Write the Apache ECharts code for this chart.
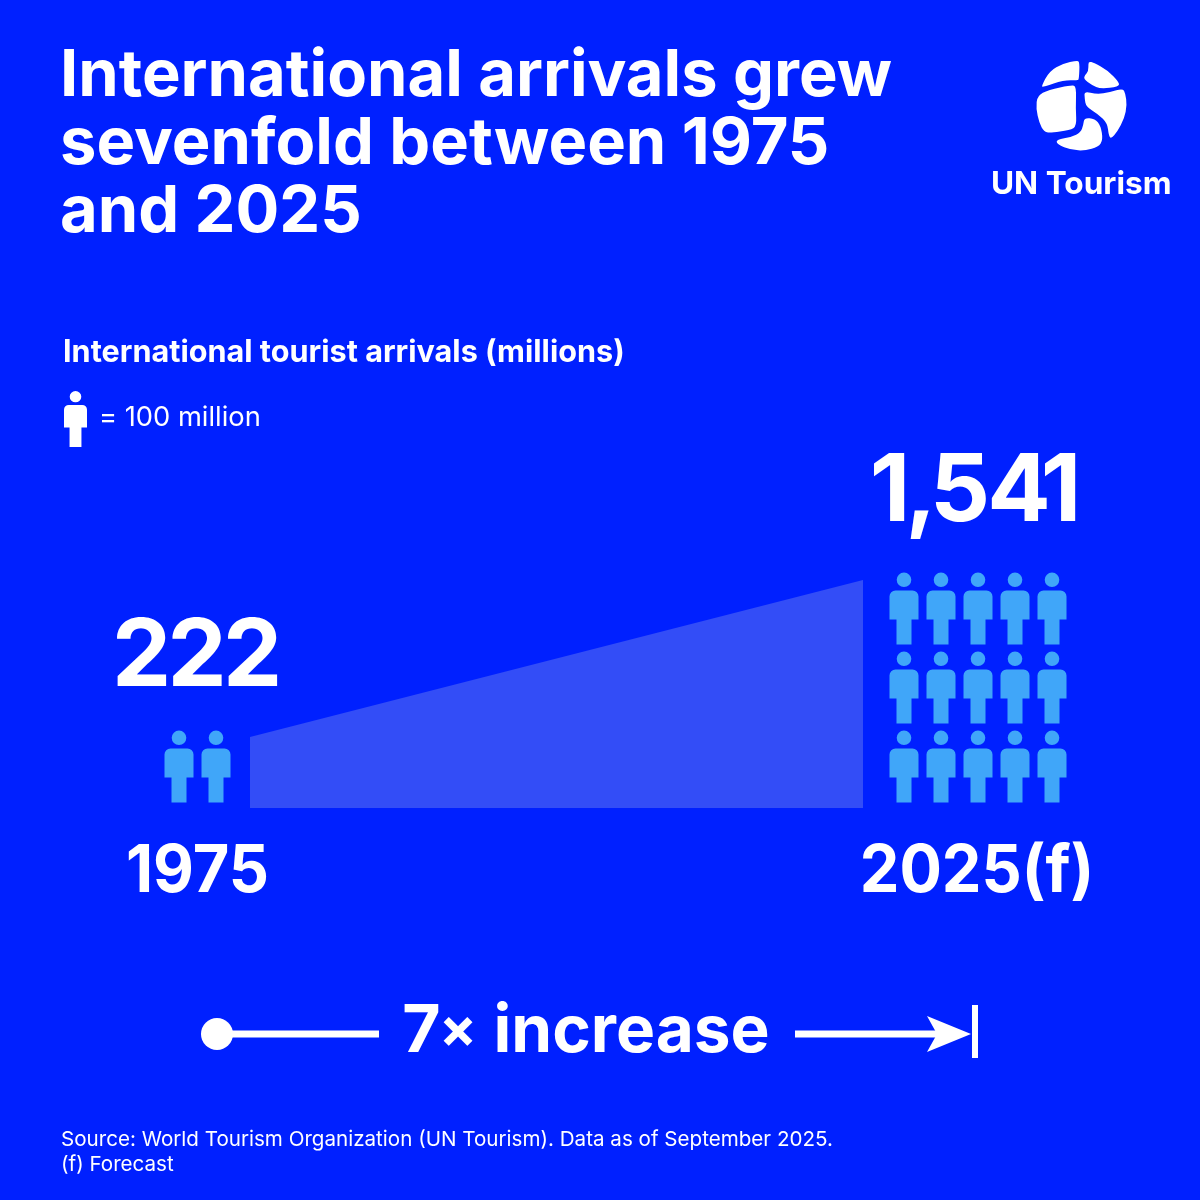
<!DOCTYPE html>
<html>
<head>
<meta charset="utf-8">
<title>International arrivals</title>
<script src="https://cdn.jsdelivr.net/npm/echarts@6/dist/echarts.min.js"></script>
<style>
  html, body { margin: 0; padding: 0; background: #0020ff; }
  #main { width: 1200px; height: 1200px; }
</style>
</head>
<body>
<div id="main"></div>
<script>
// data
var titleLines = ['International arrivals grew', 'sevenfold between 1975', 'and 2025'];
var yearValues = [1975, 2025];
var yearLabels = ['1975', '2025(f)'];
var arrivals = [222, 1541];
var peoplePerIcon = 100;
var iconsPerRow = 5;

var BG = '#0020ff', WEDGE = '#334df7', ICON = '#40a6f9', WHITE = '#ffffff';
var FONT = 'Inter, "Liberation Sans", sans-serif';

// person icon, 29 x 72
var PERSON = 'M14.5 0a7.3 7.3 0 1 0 .01 0z' +
  'M6 18H23a6 6 0 0 1 6 6V47H22V72H7V47H0V24a6 6 0 0 1 6-6z';

// logo outlines, in zoom coordinates (3x)
var logoShapes = [
  [[33,96],[58,48],[100,25],[140,17],[149,20],[147,72],[143,76],[100,76],[42,95]],
  [[178,20],[190,22],[232,45],[268,82],[266,95],[212,102],[185,90],[161,72],[165,60],[175,50],[175,25]],
  [[22,122],[55,105],[125,90],[139,94],[137,160],[140,214],[120,225],[60,234],[42,230],[28,205],[18,160]],
  [[163,108],[200,118],[240,112],[278,100],[286,115],[291,150],[283,190],[262,230],[243,252],[236,240],[232,205],[205,178],[168,155],[164,130]],
  [[163,188],[195,192],[212,212],[219,255],[205,276],[165,287],[125,285],[80,268],[80,253],[125,246],[152,232],[160,210]]
];

function smoothPath(pts) {
  var n = pts.length, d = '';
  for (var i = 0; i < n; i++) {
    var p = pts[i], q = pts[(i + 1) % n];
    var mx = (p[0] + q[0]) / 2, my = (p[1] + q[1]) / 2;
    if (i === 0) {
      var l = pts[n - 1];
      d += 'M' + (l[0] + p[0]) / 2 + ' ' + (l[1] + p[1]) / 2;
    }
    d += 'Q' + p[0] + ' ' + p[1] + ' ' + mx + ' ' + my;
  }
  return d + 'Z';
}

// the graphic component only knows registered shapes
echarts.graphic.registerShape('personIcon', echarts.graphic.extendPath(PERSON, {}));
logoShapes.forEach(function (pts, i) {
  echarts.graphic.registerShape('logoPart' + i, echarts.graphic.extendPath(smoothPath(pts), {}));
});

// one cell per 100 million, filled row by row from the bottom
function iconCells(value, perRow) {
  var count = Math.round(value / peoplePerIcon), cells = [];
  for (var i = 0; i < count; i++) {
    cells.push([i % perRow, Math.floor(i / perRow)]);
  }
  return cells;
}

function txt(text, x, baseline, size, weight, align, scaleX) {
  return {
    type: 'text', x: x, y: baseline - size * 0.31, scaleX: scaleX || 1, silent: true,
    style: {
      text: text, fill: WHITE, align: align || 'left', verticalAlign: 'middle',
      font: (weight || 400) + ' ' + size + 'px ' + FONT
    }
  };
}

// big numbers are tightly tracked in the reference, so set them glyph by glyph
function glyphs(text, centers, baseline, size) {
  return text.split('').map(function (ch, i) {
    return txt(ch, centers[i], baseline, size, 700, 'center');
  });
}

function formatValue(v) {
  return String(v).replace(/\B(?=(\d{3})+$)/g, ',');
}

var graphics = [];
titleLines.forEach(function (line, i) {
  graphics.push(txt(line, 60, 97 + i * 68, 65, 700));
});
graphics.push(txt('International tourist arrivals (millions)', 63, 362, 30.6, 700));
graphics.push(txt('= 100 million', 99, 426, 27.3, 400));
graphics.push({ type: 'personIcon', silent: true, x: 64, y: 391, scaleX: 23 / 29, scaleY: 56 / 72, style: { fill: WHITE } });
graphics = graphics.concat(glyphs(formatValue(arrivals[0]), [141.5, 197, 252.5], 687, 94));
graphics = graphics.concat(glyphs(formatValue(arrivals[1]), [890, 921, 960, 1019, 1061], 522, 94));
graphics.push(txt(yearLabels[0], 197.5, 893, 65.6, 700, 'center', 0.96));
graphics.push(txt(yearLabels[1], 977, 893, 65.6, 700, 'center', 0.96));

// 7x arrow
graphics.push({ type: 'circle', silent: true, shape: { cx: 217, cy: 1034, r: 16 }, style: { fill: WHITE } });
graphics.push({ type: 'rect', silent: true, shape: { x: 217, y: 1030.5, width: 162, height: 7 }, style: { fill: WHITE } });
graphics.push({ type: 'rect', silent: true, shape: { x: 795, y: 1030.5, width: 145, height: 7 }, style: { fill: WHITE } });
graphics.push({ type: 'polygon', silent: true, shape: { points: [[927, 1016], [971, 1034], [927, 1052], [937, 1034]] }, style: { fill: WHITE } });
graphics.push({ type: 'rect', silent: true, shape: { x: 972, y: 1005, width: 6, height: 53 }, style: { fill: WHITE } });
graphics.push(txt('7', 421.5, 1053, 66, 700, 'center'));
graphics.push(txt('×', 458, 1048.6, 56, 700, 'center'));
graphics.push(txt('increase', 493.5, 1053, 66, 700, 'left', 0.995));

// logo
logoShapes.forEach(function (pts, i) {
  graphics.push({ type: 'logoPart' + i, silent: true, x: 1030, y: 55, scaleX: 1 / 3, scaleY: 1 / 3, style: { fill: WHITE } });
});
graphics.push(txt('UN Tourism', 991, 194, 31.6, 700));

// footer
graphics.push(txt('Source: World Tourism Organization (UN Tourism). Data as of September 2025.', 61, 1146, 20.6, 400));
graphics.push(txt('(f) Forecast', 61, 1171, 20.6, 400));

var chart = echarts.init(document.getElementById('main'), null, { renderer: 'canvas' });

chart.setOption({
  backgroundColor: BG,
  animation: false,
  grid: [
    { left: 250, width: 613, top: 406.3, height: 401.7 },   // wedge
    { left: 179, width: 37, top: 608.5, height: 158 },      // 1975 icons
    { left: 904, width: 148, top: 608.5, height: 158 }      // 2025 icons
  ],
  xAxis: [
    { type: 'value', gridIndex: 0, min: yearValues[0], max: yearValues[1], show: false },
    { type: 'value', gridIndex: 1, min: 0, max: 1, show: false },
    { type: 'value', gridIndex: 2, min: 0, max: iconsPerRow - 1, show: false }
  ],
  yAxis: [
    { type: 'value', gridIndex: 0, min: -375, max: 3000, show: false },
    { type: 'value', gridIndex: 1, min: 0, max: 2, show: false },
    { type: 'value', gridIndex: 2, min: 0, max: 2, show: false }
  ],
  series: [
    {
      type: 'line', xAxisIndex: 0, yAxisIndex: 0, silent: true,
      data: yearValues.map(function (y, i) { return [y, arrivals[i]]; }),
      symbol: 'none', lineStyle: { width: 0 },
      areaStyle: { color: WEDGE, opacity: 1, origin: 'start' }
    },
    {
      type: 'scatter', xAxisIndex: 1, yAxisIndex: 1, silent: true,
      data: iconCells(arrivals[0], 2),
      symbol: 'path://' + PERSON, symbolSize: [29, 72],
      itemStyle: { color: ICON, opacity: 1 }
    },
    {
      type: 'scatter', xAxisIndex: 2, yAxisIndex: 2, silent: true,
      data: iconCells(arrivals[1], iconsPerRow),
      symbol: 'path://' + PERSON, symbolSize: [29, 72],
      itemStyle: { color: ICON, opacity: 1 }
    }
  ],
  graphic: graphics
});
</script>
</body>
</html>
